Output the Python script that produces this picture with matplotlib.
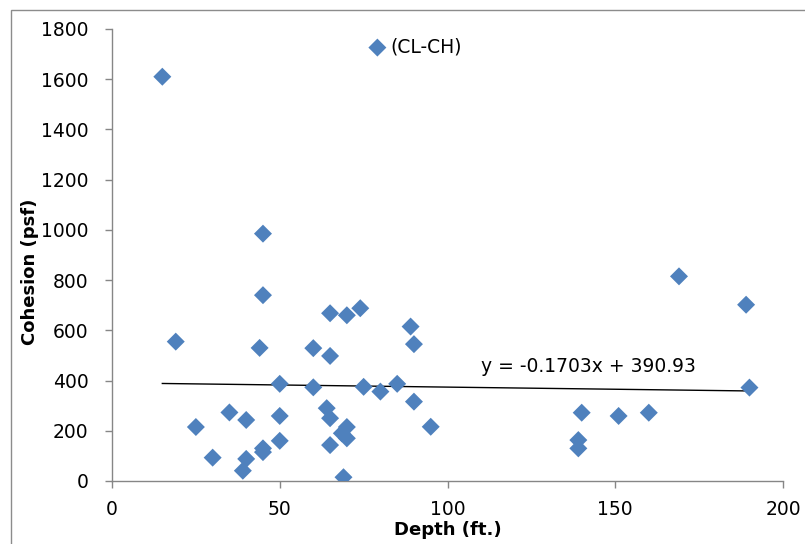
import matplotlib
matplotlib.use("Agg")
import matplotlib.pyplot as plt
from matplotlib.patches import Rectangle
import numpy as np

plt.rcParams['font.family'] = ['DejaVu Sans']

# Data
depth = [15, 19, 25, 30, 35, 39, 40, 40, 44, 45, 45, 45, 45, 50, 50, 50,
         60, 60, 64, 65, 65, 65, 65, 69, 68.5, 70, 70, 70, 74, 75, 80, 85,
         89, 90, 90, 95, 139, 139, 140, 151, 160, 169, 189, 190]
cohesion = [1610, 555, 215, 93, 273, 41, 243, 88, 530, 985, 740, 130, 115,
            387, 259, 160, 529, 373, 290, 668, 498, 250, 143, 15, 190, 660,
            215, 170, 688, 375, 356, 387, 615, 545, 316, 216, 163, 130, 272,
            259, 272, 815, 702, 372]
series_label = "(CL-CH)"
trend_slope = -0.1703
trend_intercept = 390.93
trend_label = "y = -0.1703x + 390.93"
x_ticks = [0, 50, 100, 150, 200]
y_ticks = [0, 200, 400, 600, 800, 1000, 1200, 1400, 1600, 1800]

W, H = 805, 544
fig = plt.figure(figsize=(W / 100, H / 100), dpi=100)
ax = fig.add_axes([112 / W, 1 - 481 / H, (783 - 112) / W, (481 - 29) / H])

blue = '#4F81BD'
axis_grey = '#868686'
fs = 13.5

ax.scatter(depth, cohesion, marker='D', s=84, color=blue, edgecolors='none',
           label=series_label, zorder=3)

xs = np.array([min(depth), max(depth)])
ax.plot(xs, trend_slope * xs + trend_intercept, color='black', lw=1.0, zorder=2)
ax.text(110, 455, trend_label, fontsize=fs, ha='left', va='center')

ax.set_xlim(0, 200)
ax.set_ylim(0, 1800)
ax.set_xticks(x_ticks)
ax.set_yticks(y_ticks)
ax.set_xticklabels([str(v) for v in x_ticks])
ax.set_yticklabels([str(v) for v in y_ticks])

for side in ['top', 'right']:
    ax.spines[side].set_visible(False)
for side in ['left', 'bottom']:
    ax.spines[side].set_color(axis_grey)
    ax.spines[side].set_linewidth(1.0)

ax.tick_params(axis='both', direction='out', length=5, width=1.0,
               color=axis_grey, labelsize=fs, labelcolor='black')
ax.tick_params(axis='y', pad=12)
ax.tick_params(axis='x', pad=9)

ax.set_xlabel('Depth (ft.)', fontsize=13, fontweight='bold', labelpad=1)
ax.yaxis.set_label_coords(39 / W, 0.5, transform=fig.transFigure)
ax.set_ylabel('Cohesion (psf)', fontsize=13, fontweight='bold')

leg = ax.legend(loc='center left', bbox_to_anchor=(368 / W, 1 - 47 / H),
                bbox_transform=fig.transFigure, frameon=False,
                borderpad=0, borderaxespad=0, handlelength=1.0,
                handletextpad=0.2, fontsize=fs, scatterpoints=1)

fig.patches.append(Rectangle((11 / W, -0.1), 1.5, (1 - 10 / H) + 0.1,
                             transform=fig.transFigure, fill=False,
                             edgecolor='#8c8c8c', linewidth=1.0, zorder=0))

fig.savefig('out.png', dpi=100)
